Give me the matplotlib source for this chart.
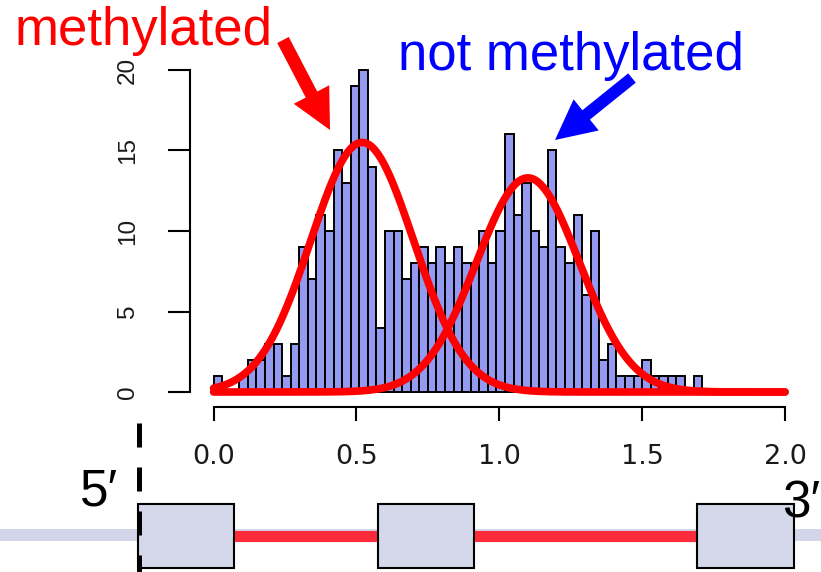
import numpy as np
import matplotlib.pyplot as plt
from matplotlib.patches import Rectangle, FancyArrow

# histogram counts, bins of 0.03 starting at 0
bin_width = 0.03
counts = [1, 0, 0, 1, 2, 2, 3, 3, 1, 3,
          9, 7, 11, 10, 15, 13, 19, 20, 14, 4,
          10, 10, 7, 8, 9, 8, 9, 8, 9, 8,
          8, 10, 8, 10, 16, 11, 13, 10, 9, 15,
          9, 8, 11, 6, 10, 2, 3, 1, 1, 1,
          2, 1, 1, 1, 1, 0, 1]

# fitted normal components: centre, peak height, sd
means = [0.52, 1.10]
peaks = [15.5, 13.3]
sds = [0.18, 0.18]

xticks = [0.0, 0.5, 1.0, 1.5, 2.0]
yticks = [0, 5, 10, 15, 20]

W, H = 821, 572
fig = plt.figure(figsize=(W / 100, H / 100), dpi=100)
ax = fig.add_axes([213.6 / W, (H - 392) / H, (785 - 213.6) / W, (392 - 70) / H])

edges = np.arange(len(counts)) * bin_width
ax.bar(edges, counts, width=bin_width, align='edge', color='#949af0',
       edgecolor='black', linewidth=1.4, clip_on=False, zorder=2)

xs = np.linspace(0, 2, 400)
for m, p, s in zip(means, peaks, sds):
    ax.plot(xs, p * np.exp(-0.5 * ((xs - m) / s) ** 2), color='#ff0000',
            lw=5.5, solid_capstyle='round', clip_on=False, zorder=3)

ax.set_xlim(0, 2)
ax.set_ylim(0, 20)
for s in ['top', 'right']:
    ax.spines[s].set_visible(False)
ax.spines['left'].set_position(('outward', 17))
ax.spines['bottom'].set_position(('outward', 10.8))
ax.spines['left'].set_bounds(0, 20)
ax.spines['bottom'].set_bounds(0, 2)
for s in ['left', 'bottom']:
    ax.spines[s].set_linewidth(1.5)
ax.set_xticks(xticks)
ax.set_xticklabels([f'{t:.1f}' for t in xticks])
ax.set_yticks(yticks)
ax.set_yticklabels([str(t) for t in yticks])
ax.tick_params(axis='x', length=10, width=1.5, pad=17, labelsize=19.5,
               labelcolor='#1a1a1a')
ax.tick_params(axis='y', length=15.8, width=1.5, pad=21, labelsize=17.5,
               labelrotation=90, labelcolor='#1a1a1a')
for lab in ax.get_yticklabels():
    lab.set_va('center')
    lab.set_family('Liberation Sans')

# overlay in pixel coordinates for annotations and gene sketch
ov = fig.add_axes([0, 0, 1, 1], zorder=5)
ov.set_xlim(0, W)
ov.set_ylim(H, 0)
ov.axis('off')

ov.text(15, 45, 'methylated', color='#ff0000', fontsize=38,
        family='Liberation Sans', va='baseline', ha='left')
ov.text(398, 70, 'not methylated', color='#0000ff', fontsize=38,
        family='Liberation Sans', va='baseline', ha='left')

ov.add_patch(FancyArrow(283, 40, 47, 90, width=13, head_width=40,
                        head_length=40, length_includes_head=True,
                        color='#ff0000', lw=0))
ov.add_patch(FancyArrow(632, 78, -77, 62, width=12, head_width=40,
                        head_length=40, length_includes_head=True,
                        color='#0000ff', lw=0))

# gene diagram
ov.plot([0, W], [535, 535], color='#d3d5ea', lw=8.6, solid_capstyle='butt')
boxes = [(138, 234), (378, 474), (697, 794)]
for (a, b), (c, d) in zip(boxes[:-1], boxes[1:]):
    ov.plot([b, c], [536, 536], color='#ff2b3b', lw=8, solid_capstyle='butt')
for a, b in boxes:
    ov.add_patch(Rectangle((a, 504), b - a, 64, facecolor='#d5d7ea',
                           edgecolor='black', lw=1.5, zorder=3))
ov.plot([139, 139], [423, 580], color='black', lw=3.6,
        linestyle=(0, (4.8, 4)), zorder=4)

ov.text(80, 505, '5\u2032', fontsize=37, color='black',
        family=['Liberation Sans', 'DejaVu Sans'], va='baseline')
ov.text(782, 517, '3\u2032', fontsize=37, color='black',
        family=['Liberation Sans', 'DejaVu Sans'], va='baseline', zorder=6)

fig.savefig('out.png', dpi=100)
